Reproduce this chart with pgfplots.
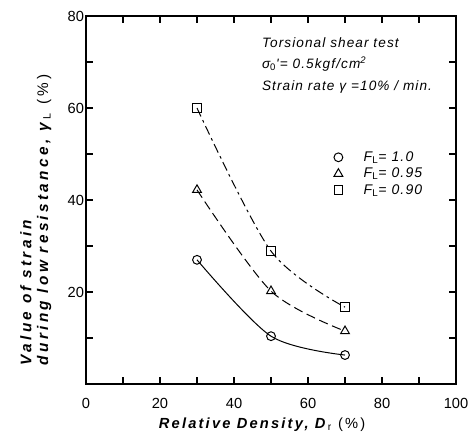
\documentclass[border=0pt]{standalone}
\usepackage{fontspec}
\setmainfont{Liberation Sans}
\newfontfamily\ylblfont[LetterSpace=22]{Liberation Sans}
\newfontfamily\xlblfont[LetterSpace=15]{Liberation Sans}
\newfontfamily\notefont[LetterSpace=8]{Liberation Sans}
\usepackage{pgfplots}
\pgfplotsset{compat=1.18}

\begin{document}
\begin{tikzpicture}
\begin{axis}[
  scale only axis, width=277.5pt, height=276pt,
  xmin=0, xmax=100, ymin=0, ymax=80,
  xtick={0,20,...,100}, minor xtick={10,30,...,90},
  ytick={20,40,60,80}, minor ytick={10,30,50,70},
  tick align=inside, tick pos=both,
  major tick length=5pt, minor tick length=5pt,
  axis line style={line width=1pt},
  every tick/.style={black, line width=0.8pt},
  tick label style={font=\fontsize{11}{12}\selectfont, /pgf/number format/assume math mode=true},
  yticklabel style={xshift=2pt},
  xticklabel style={yshift=-7pt},
  xlabel={\textbf{\textit{Relative Density, D}}\textsubscript{r} (\%)},
  xlabel style={font=\xlblfont\fontsize{11}{12}\selectfont, at={(axis description cs:0.476,-0.111)}, anchor=center},
  ylabel={\textbf{\textit{Value of strain}}\\\textbf{\textit{during low resistance, γ}}\textsubscript{L} (\%)},
  ylabel style={font=\ylblfont\fontsize{11.5}{12.5}\selectfont, align=left, at={(axis description cs:-0.081,0.038)}, anchor=south west},
  legend style={at={(axis cs:66.7,51.2)}, anchor=north west, draw=none, fill=none,
    font=\notefont\itshape\fontsize{10.5}{12}\selectfont, row sep=-0.5pt, inner sep=0pt},
  legend cell align=left,
  legend image code/.code={\draw[solid] plot[only marks] coordinates {(4pt,0pt)};
    \path[draw=none] (0pt,0pt) -- (21pt,0pt);},
]
% F_L = 1.0
\addplot[black, line width=0.75pt, smooth, mark=o, mark size=3.3pt,
  mark options={solid, fill=white}]
  coordinates {(30,27.0) (50,10.4) (70,6.3)};
\addlegendentry{F\textsubscript{\upshape L}= 1.0}
% F_L = 0.95
\addplot[black, line width=0.75pt, smooth, dash pattern=on 7pt off 3.5pt,
  mark=triangle, mark size=3.8pt, mark options={solid, fill=white}]
  coordinates {(30,42.2) (50,20.2) (70,11.5)};
\addlegendentry{F\textsubscript{\upshape L}= 0.95}
% F_L = 0.90
\addplot[black, line width=0.75pt, smooth, dash pattern=on 7pt off 3pt on 2pt off 3pt,
  mark=square, mark size=3.2pt, mark options={solid, fill=white}]
  coordinates {(30,60.0) (50,28.9) (70,16.7)};
\addlegendentry{F\textsubscript{\upshape L}= 0.90}

\node[anchor=west, align=left, font=\notefont\itshape\fontsize{10.2}{16}\selectfont, inner sep=0pt]
  at (axis cs:47.5,69.3)
  {Torsional shear test\\
   σ\textsubscript{\upshape 0}'= 0.5kgf/cm\textsuperscript{2}\\
   Strain rate γ =10\% / min.};

\coordinate (bbsw) at (rel axis cs:-0.2324,-0.1386);
\coordinate (bbne) at (rel axis cs:1.0378,1.0435);
\end{axis}
\pgfresetboundingbox
\path (bbsw) rectangle (bbne);
\end{tikzpicture}
\end{document}
